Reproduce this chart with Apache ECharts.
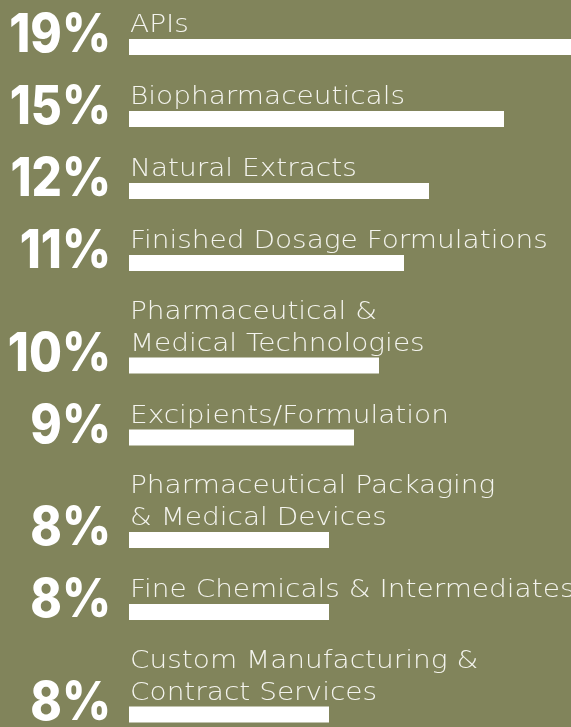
<!DOCTYPE html>
<html>
<head>
<meta charset="utf-8">
<script src="https://cdn.jsdelivr.net/npm/echarts@6/dist/echarts.min.js"></script>
<style>
html,body{margin:0;padding:0;background:#81845b;overflow:hidden;}
#chart{width:604px;height:727px;}
</style>
</head>
<body>
<div id="chart"></div>
<script>
// ---- data ----
const categories = [
  'APIs',
  'Biopharmaceuticals',
  'Natural Extracts',
  'Finished Dosage Formulations',
  'Pharmaceutical &\nMedical Technologies',
  'Excipients/Formulation',
  'Pharmaceutical Packaging\n& Medical Devices',
  'Fine Chemicals & Intermediates',
  'Custom Manufacturing &\nContract Services'
];
const shares = [19, 15, 12, 11, 10, 9, 8, 8, 8];
const shareLabels = ['19%', '15%', '12%', '11%', '10%', '9%', '8%', '8%', '8%'];

// ---- layout (row positions derived from label line counts) ----
const ROW_START = 47, ROW_STEP = 72, EXTRA_LINE = 30.5, BAR_H = 16;
const rowPos = [];
categories.forEach((c, i) => {
  const lines = c.split('\n').length;
  rowPos.push(i === 0 ? ROW_START : rowPos[i - 1] + ROW_STEP + EXTRA_LINE * (lines - 1));
});

const chart = echarts.init(document.getElementById('chart'), null, {renderer: 'canvas'});
chart.setOption({
  backgroundColor: '#81845b',
  animation: false,
  grid: {left: 129, right: 0, top: 0, bottom: 0},
  xAxis: {type: 'value', min: 0, max: 19, show: false},
  yAxis: {type: 'value', min: 0, max: 727, inverse: true, show: false},
  series: [{
    type: 'custom',
    data: shares.map((v, i) => [v, rowPos[i], i]),
    encode: {x: 0, y: 1},
    clip: false,
    renderItem: function (params, api) {
      const v = api.value(0), p = api.value(1), idx = api.value(2);
      const s = api.coord([0, p]);
      const e = api.coord([v, p]);
      const top = s[1] - BAR_H / 2;
      return {
        type: 'group',
        children: [
          {type: 'rect', shape: {x: s[0], y: top, width: e[0] - s[0], height: BAR_H},
           style: {fill: '#ffffff'}},
          {type: 'text', x: s[0] - 18, y: top + BAR_H + 8, scaleX: 0.9,
           style: {text: shareLabels[idx], fill: '#ffffff', font: '800 53px Inter',
                   align: 'right', verticalAlign: 'bottom'}},
          {type: 'text', x: s[0] + 1, y: top + 3, scaleX: 1.165,
           style: {text: categories[idx], fill: '#f4f4ee', fontFamily: 'DejaVu Sans',
                   fontSize: 24, fontWeight: 300, lineHeight: 32,
                   align: 'left', verticalAlign: 'bottom'}}
        ]
      };
    }
  }]
});
</script>
</body>
</html>
